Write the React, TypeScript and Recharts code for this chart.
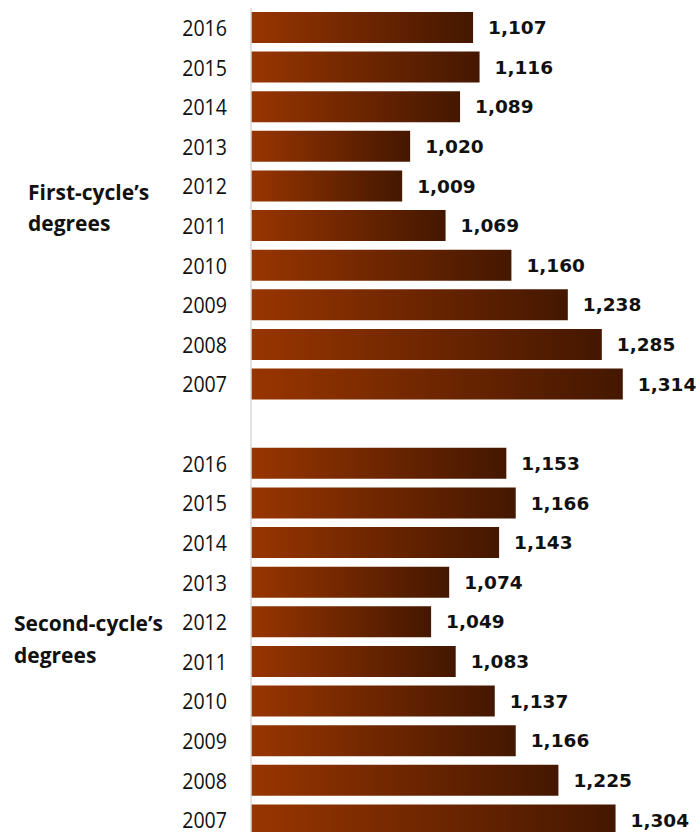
import React from "react";
import { BarChart, Bar, XAxis, YAxis, LabelList } from "recharts";

const years = ["2016", "2015", "2014", "2013", "2012", "2011", "2010", "2009", "2008", "2007"];
const firstCycle = [1107, 1116, 1089, 1020, 1009, 1069, 1160, 1238, 1285, 1314];
const secondCycle = [1153, 1166, 1143, 1074, 1049, 1083, 1137, 1166, 1225, 1304];
const groupLabels = [["First-cycle\u2019s", "degrees"], ["Second-cycle\u2019s", "degrees"]];

type Row = { key: string; year: string; value: number | null; group: number; idx: number };

const data: Row[] = [
  ...years.map((y, i) => ({ key: "a" + y, year: y, value: firstCycle[i], group: 0, idx: i })),
  { key: "gap", year: "", value: null, group: -1, idx: -1 },
  ...years.map((y, i) => ({ key: "b" + y, year: y, value: secondCycle[i], group: 1, idx: i })),
];

const YEAR_FONT = "'Open Sans', 'Liberation Sans', sans-serif";
const LABEL_FONT = "'DejaVu Sans', sans-serif";

const groupStyle = [
  { x: 28, dy1: 14, dy2: 45 },
  { x: 14, dy1: 9, dy2: 41 },
];

const YearTick = (props: any) => {
  const { y, payload, index } = props;
  const row = data[index] || data.find((d) => d.key === payload.value);
  if (!row) return null;
  const showGroup = row.idx === 4 && row.group >= 0;
  const gs = showGroup ? groupStyle[row.group] : null;
  return (
    <g>
      <text
        transform={`translate(227, ${y}) scale(0.87, 1)`}
        x={0}
        y={0}
        dy="0.36em"
        textAnchor="end"
        fontFamily={YEAR_FONT}
        fontSize={22.5}
        fill="#111"
      >
        {row.year}
      </text>
      {gs && (
        <text fontFamily={YEAR_FONT} fontWeight="bold" fontSize={21} fill="#111">
          <tspan x={gs.x} y={y + gs.dy1}>{groupLabels[row.group][0]}</tspan>
          <tspan x={gs.x} y={y + gs.dy2}>{groupLabels[row.group][1]}</tspan>
        </text>
      )}
    </g>
  );
};

const ValueLabel = (props: any) => {
  const { x, y, width, height, value } = props;
  if (value == null) return null;
  return (
    <text
      x={x + width + 15}
      y={y + height / 2}
      dy="0.36em"
      textAnchor="start"
      fontFamily={LABEL_FONT}
      fontWeight="bold"
      fontSize={18.5}
      fill="#111"
    >
      {Number(value).toLocaleString("en-US")}
    </text>
  );
};

export default function App() {
  return (
    <div style={{ position: "absolute", left: 0, top: 0, width: 700, height: 832, overflow: "hidden", background: "#fff" }}>
      <BarChart
        width={700}
        height={840}
        data={data}
        layout="vertical"
        margin={{ top: 8, right: 15, bottom: 0, left: 0 }}
      >
        <defs>
          <linearGradient id="barGrad" x1="0" y1="0" x2="1" y2="0">
            <stop offset="0%" stopColor="#983500" />
            <stop offset="100%" stopColor="#441700" />
          </linearGradient>
        </defs>
        <XAxis type="number" domain={[800, 1400]} hide allowDataOverflow />
        <YAxis
          type="category"
          dataKey="key"
          width={251}
          axisLine={{ stroke: "#d9d9d9", strokeWidth: 1.5 }}
          tickLine={false}
          tick={<YearTick />}
          interval={0}
        />
        <Bar dataKey="value" fill="url(#barGrad)" barSize={31} isAnimationActive={false}>
          <LabelList dataKey="value" content={<ValueLabel />} />
        </Bar>
      </BarChart>
    </div>
  );
}
